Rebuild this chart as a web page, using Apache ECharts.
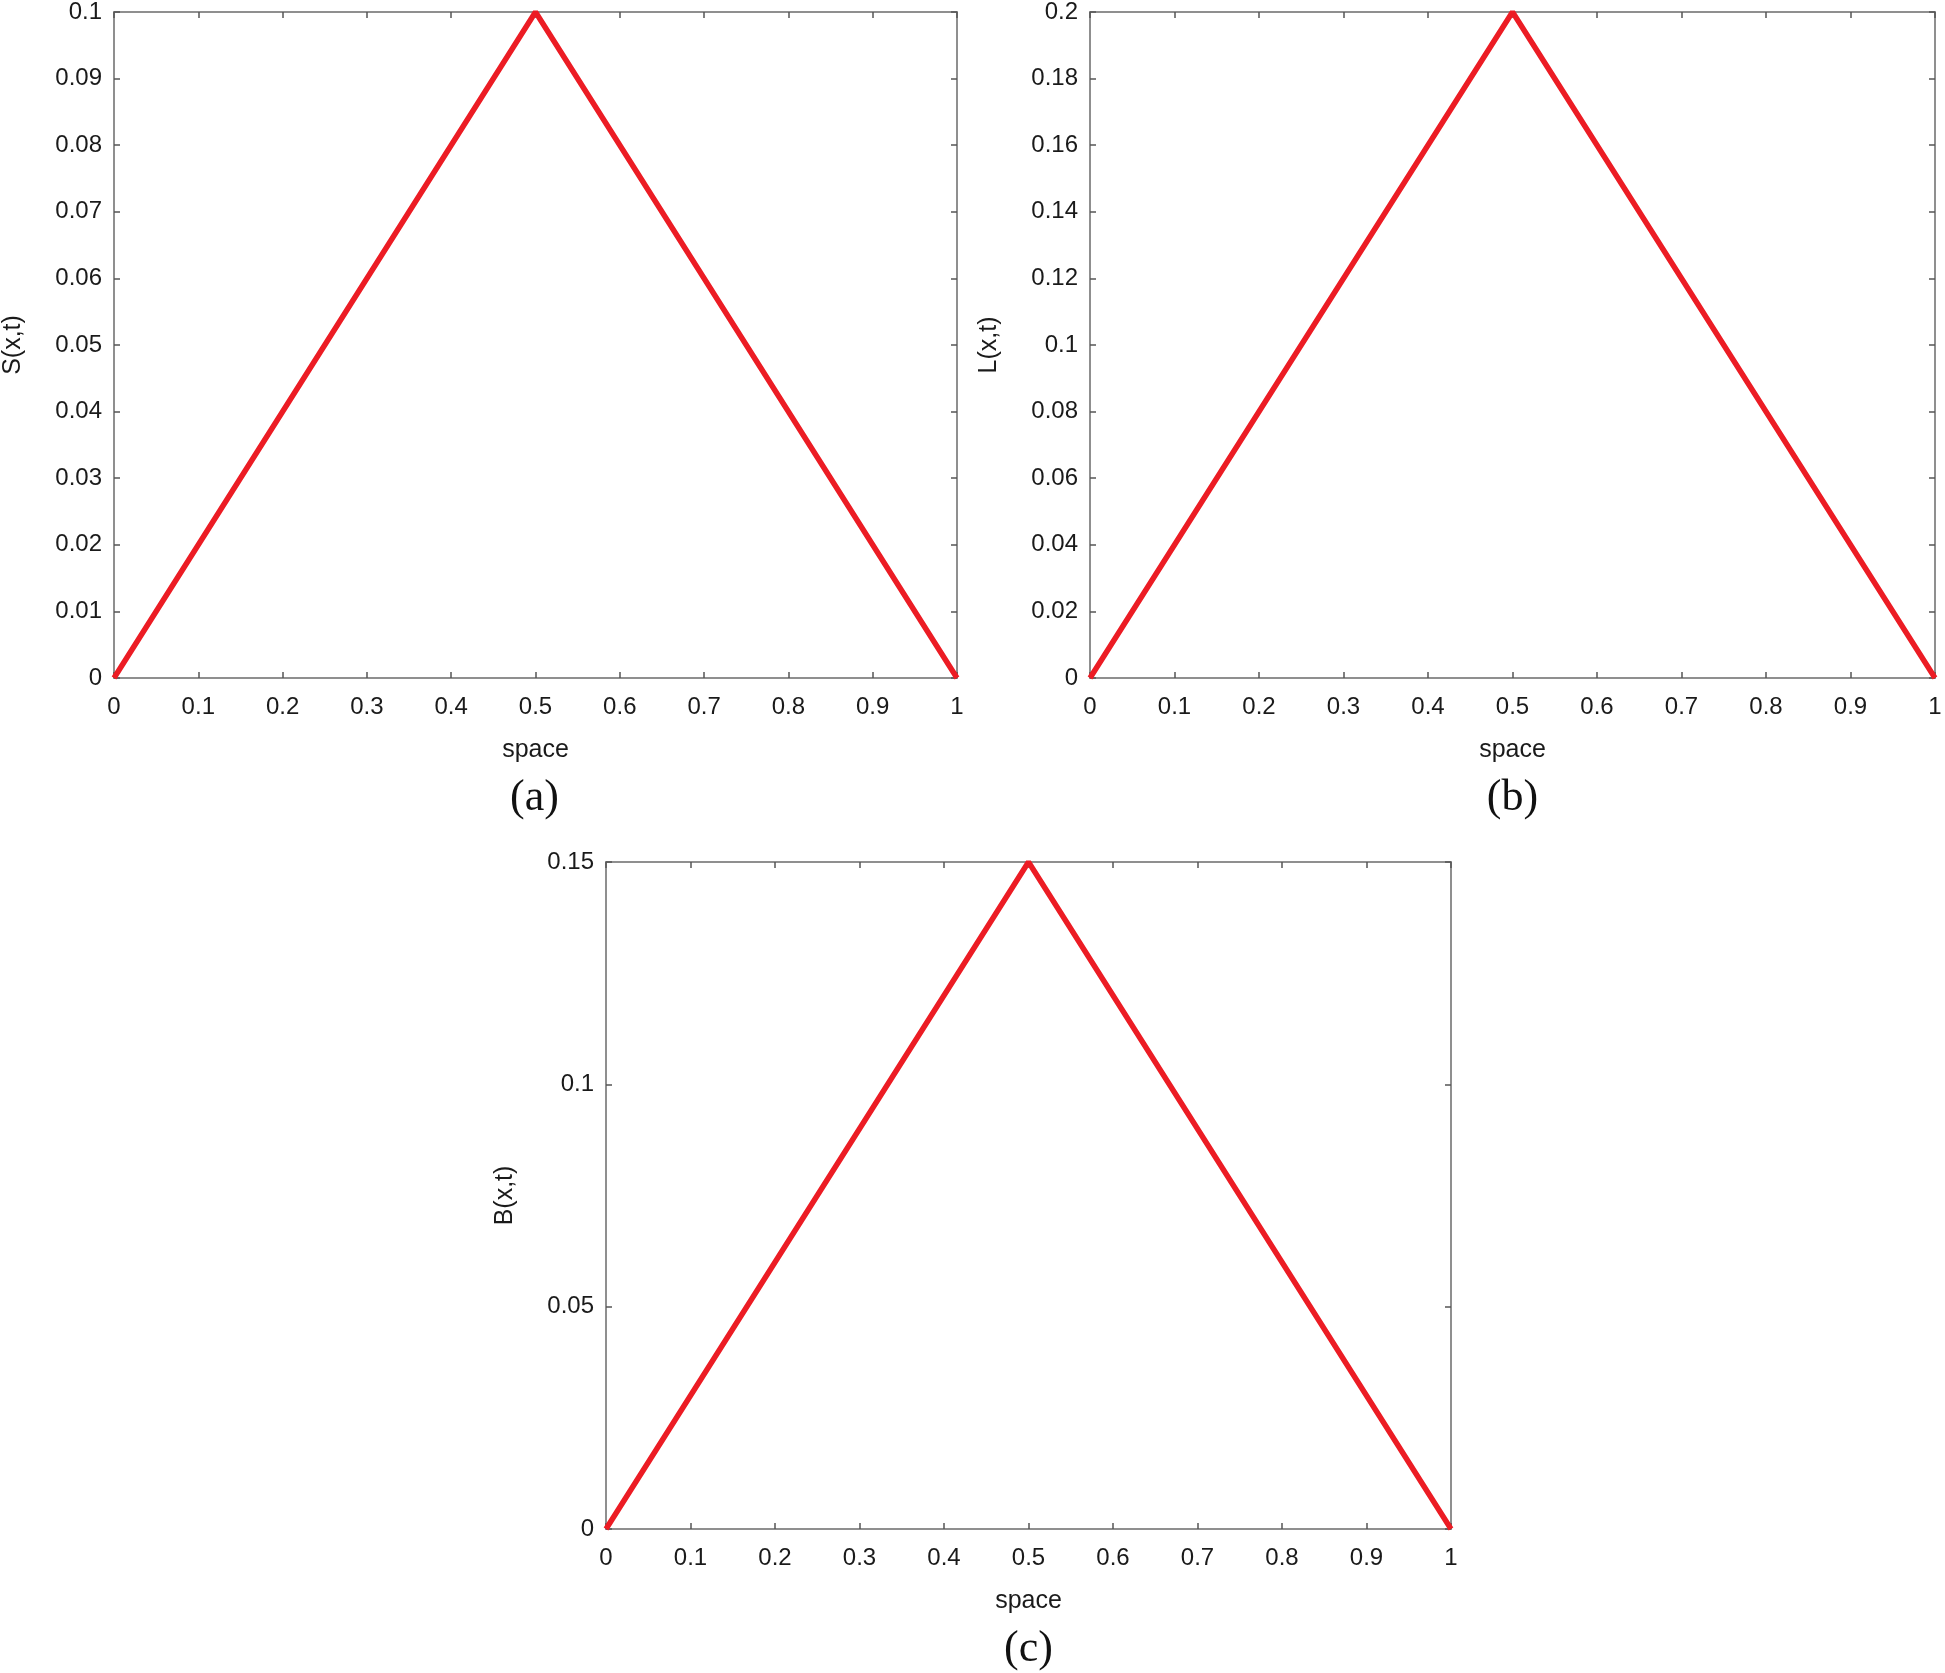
<!DOCTYPE html>
<html><head><meta charset="utf-8">
<script src="https://cdn.jsdelivr.net/npm/echarts@6/dist/echarts.min.js"></script>
<style>html,body{margin:0;padding:0;background:#fff}#c{width:1945px;height:1673px}</style>
</head><body><div id="c"></div>
<script>
const xValues = [0, 0.5, 1];
const sValues = [0, 0.1, 0];
const lValues = [0, 0.2, 0];
const bValues = [0, 0.15, 0];
const xTicks = [0, 0.1, 0.2, 0.3, 0.4, 0.5, 0.6, 0.7, 0.8, 0.9, 1];
const panels = [
  {name: 'S(x,t)', data: sValues, max: 0.1, interval: 0.01, caption: '(a)', grid: {left: 112, top: 11, width: 845, height: 667}},
  {name: 'L(x,t)', data: lValues, max: 0.2, interval: 0.02, caption: '(b)', grid: {left: 1090, top: 11, width: 845, height: 667}},
  {name: 'B(x,t)', data: bValues, max: 0.15, interval: 0.05, caption: '(c)', grid: {left: 606, top: 862, width: 845, height: 667}}
];
const axisColor = '#8f8f8f';
const font = 'Liberation Sans, Arial, sans-serif';
const grid = [], xAxis = [], yAxis = [], series = [], graphic = [];
panels.forEach((p, i) => {
  grid.push(Object.assign({show: false}, p.grid));
  const common = {gridIndex: i, type: 'value', min: 0, splitLine: {show: false},
    axisLine: {show: true, onZero: false, lineStyle: {color: axisColor, width: 2}},
    axisTick: {show: true, inside: true, length: 6, lineStyle: {color: '#555', width: 1.5}}};
  xAxis.push(Object.assign({}, common, {position: 'bottom', max: 1, interval: 0.1,
    name: 'space', nameLocation: 'middle', nameGap: 60,
    nameTextStyle: {fontSize: 25, color: '#1a1a1a', fontFamily: font},
    axisLabel: {fontSize: 24, color: '#1a1a1a', fontFamily: font, margin: 17}}));
  xAxis.push(Object.assign({}, common, {position: 'top', max: 1, interval: 0.1, axisLabel: {show: false}}));
  yAxis.push(Object.assign({}, common, {position: 'left', max: p.max, interval: p.interval,
    name: p.name, nameLocation: 'middle', nameGap: 88, nameRotate: 90,
    nameTextStyle: {fontSize: 25, color: '#1a1a1a', fontFamily: font},
    axisLabel: {fontSize: 24, color: '#1a1a1a', fontFamily: font, margin: 12}}));
  yAxis.push(Object.assign({}, common, {position: 'right', max: p.max, interval: p.interval, axisLabel: {show: false}}));
  series.push({type: 'line', xAxisIndex: 2 * i, yAxisIndex: 2 * i, symbol: 'none',
    lineStyle: {color: '#ec1c24', width: 5.5}, data: xValues.map((x, k) => [x, p.data[k]])});
  graphic.push({type: 'text', x: p.grid.left + p.grid.width / 2, y: p.grid.top + p.grid.height + 120,
    style: {text: p.caption, textAlign: 'center', textVerticalAlign: 'middle',
      font: '44px "Liberation Serif", "Times New Roman", serif', fill: '#111'}});
});
const chart = echarts.init(document.getElementById('c'));
chart.setOption({animation: false, grid, xAxis, yAxis, series, graphic});
</script></body></html>
